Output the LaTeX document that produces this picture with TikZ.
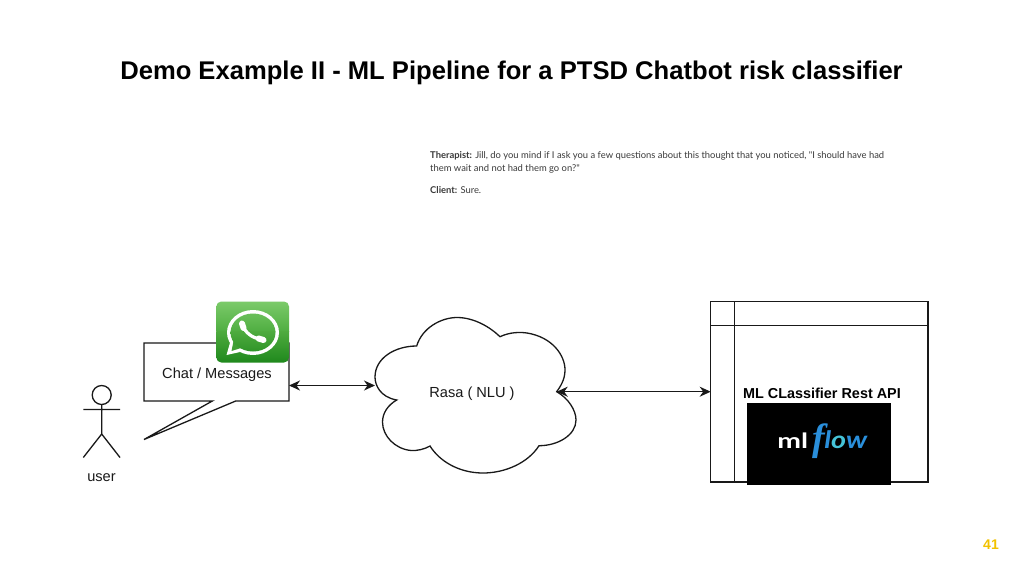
\documentclass[tikz,border=0pt]{standalone}
\usepackage{fontspec}
\setmainfont{Liberation Sans}
\newfontfamily\latofont{Lato}
\newfontfamily\serfont{Liberation Serif}
\usetikzlibrary{arrows.meta}
\definecolor{goldnum}{HTML}{F2C200}
\definecolor{txtgray}{HTML}{3A3A3A}
\definecolor{wgA}{HTML}{7CCB6A}
\definecolor{wgB}{HTML}{50AE42}
\definecolor{wgC}{HTML}{4FAB3F}
\definecolor{wgD}{HTML}{1E881C}
\definecolor{flowblue}{HTML}{2A8FDB}
\definecolor{flowteal}{HTML}{45C4D8}
\newcommand{\wagrad}{%
  \shade[top color=wgA, bottom color=wgB] (216,301) rectangle (289.5,331);
  \shade[top color=wgC, bottom color=wgD] (216,331) rectangle (289.5,363);}
\tikzset{
  shapeline/.style={draw=black!90, line width=1.3pt, fill=white, line join=miter},
  stick/.style={draw=black!90, line width=1.3pt},
  link/.style={draw=black!90, line width=1.3pt, {Stealth[length=11pt,width=10pt,inset=3.5pt]}-{Stealth[length=11pt,width=10pt,inset=3.5pt]}},
  label/.style={inner sep=0pt, font=\fontsize{14.6}{16}\selectfont, text=black!90},
  para/.style={inner sep=0pt, anchor=base west, text=txtgray, font=\latofont\fontsize{9.4}{11}\selectfont},
}
\begin{document}
\begin{tikzpicture}[x=1pt,y=-1pt]
\useasboundingbox (0,0) rectangle (1024,576);
\fill[white] (0,0) rectangle (1024,576);

\node[inner sep=0pt, font=\bfseries\fontsize{25.6}{28}\selectfont] (title) at (511.5,73) {Demo Example II - ML Pipeline for a PTSD Chatbot risk classifier};

\node[para] (p1) at (430,158.5) {\textbf{Therapist:} Jill, do you mind if I ask you a few questions about this thought that you noticed, "I should have had};
\node[para] (p2) at (430,171.5) {them wait and not had them go on?"};
\node[para] (p3) at (430,193) {\textbf{Client:} Sure.};

% user
\draw[stick] (101.7,395) circle (9.5);
\draw[stick] (101.7,404.5) -- (101.7,434) (83.3,409.5) -- (120,409.5) (83.3,457.5) -- (101.7,434) -- (120,457.5);
\node[label] (user) at (101.5,477.5) {user};

% chat callout
\draw[shapeline] (144,343) -- (289,343) -- (289,401) -- (235.7,401) -- (144,439.5) -- (212.3,401) -- (144,401) -- cycle;
\node[label] (chat) at (217,374.5) {Chat / Messages};
\coordinate (chatport) at (289,385.5);

% whatsapp icon
\begin{scope}
  \clip[rounded corners=5pt] (216.3,301.5) rectangle (289,362.5);
  \wagrad
\end{scope}
\fill[white] (253,332.5) ellipse (26 and 22.5);
\fill[white] (226.5,355) -- (230.5,341) -- (240,352) -- cycle;
\fill[wgC!70!wgD] (231.5,351) -- (233.5,341) -- (241,348) -- cycle;
\begin{scope}
  \clip (253,332.5) ellipse (22.5 and 19);
  \wagrad
\end{scope}
\draw[white, line width=3.2pt] (243,326) .. controls (245,332) and (252,338) .. (260,339);
\draw[white, line width=6pt, line cap=round] (242,323.5) -- (243.5,328);
\draw[white, line width=6pt, line cap=round] (258.5,338.5) -- (263.5,340);

% cloud
\draw[shapeline] (396.7,400)
  .. controls (380,397) and (375,385) .. (375,377)
  .. controls (375,358) and (395,346) .. (416.7,346)
  .. controls (422,328) and (441,317.5) .. (457,317.5)
  .. controls (474,317.5) and (490,327) .. (500,336.7)
  .. controls (510,332) and (520,332) .. (527,333)
  .. controls (552,337) and (565,355) .. (565,370)
  .. controls (565,380) and (560,387) .. (556.7,391.7)
  .. controls (568,398) and (576,410) .. (576,420)
  .. controls (576,435) and (558,445.7) .. (539,445.7)
  .. controls (528,463) and (505,473) .. (483,473)
  .. controls (460,473) and (440,462) .. (430,446)
  .. controls (425,449) and (417,451) .. (411,450.5)
  .. controls (395,449) and (382.5,436) .. (382.5,422)
  .. controls (382.5,413) and (388,405) .. (396.7,400) -- cycle;
\node[label] (rasa) at (472,394) {Rasa ( NLU )};
\coordinate (rasaleft) at (375,385.5);
\coordinate (rasaright) at (556.7,391.7);

% ML box
\draw[shapeline] (710.7,301.3) rectangle (928,482);
\draw[stick] (734.7,301.3) -- (734.7,482) (710.7,325.3) -- (928,325.3);
\coordinate (mlport) at (710.7,391.7);
\node[label, font=\bfseries\fontsize{14.4}{16}\selectfont, text=black] (mltitle) at (822,393) {ML CLassifier Rest API};
\fill[black] (746.7,403.3) rectangle (891,484.7);
\node[inner sep=0pt, anchor=base west, text=white, xscale=1.35, font=\latofont\bfseries\fontsize{21}{22}\selectfont] (mlogo) at (777,448) {ml};
\node[inner sep=0pt, anchor=base west, text=flowblue, font=\serfont\bfseries\itshape\fontsize{38}{40}\selectfont] (flogo) at (812,450) {f};
\node[inner sep=0pt, anchor=base west, text=flowblue, xscale=1.2, font=\latofont\itshape\bfseries\fontsize{24}{26}\selectfont] (lowlogo) at (824,448) {l\textcolor{flowteal}{o}w};

% connectors
\draw[link] (chatport) -- (rasaleft);
\draw[link] (rasaright) -- (mlport);

\node[inner sep=0pt, text=goldnum, font=\bfseries\fontsize{14}{16}\selectfont] (pagenum) at (991,544.5) {41};
\end{tikzpicture}
\end{document}
